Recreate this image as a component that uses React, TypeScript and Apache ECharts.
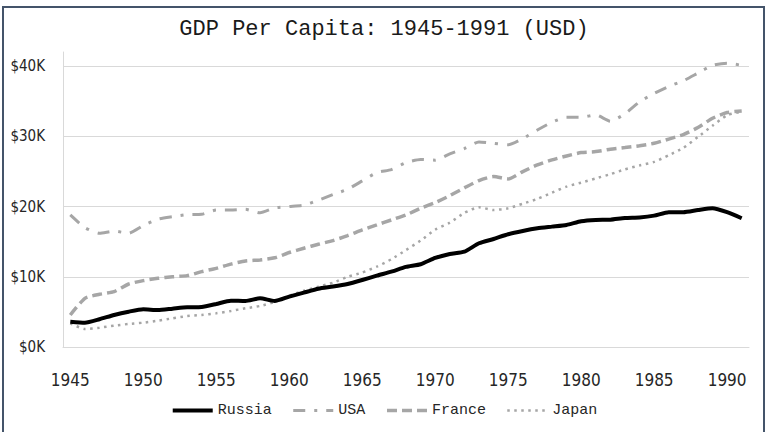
import React, { useEffect, useRef } from "react";
import * as echarts from "echarts";

const years = [
  "1945", "1946", "1947", "1948", "1949", "1950", "1951", "1952", "1953", "1954",
  "1955", "1956", "1957", "1958", "1959", "1960", "1961", "1962", "1963", "1964",
  "1965", "1966", "1967", "1968", "1969", "1970", "1971", "1972", "1973", "1974",
  "1975", "1976", "1977", "1978", "1979", "1980", "1981", "1982", "1983", "1984",
  "1985", "1986", "1987", "1988", "1989", "1990", "1991",
];

const russia = [
  3600, 3460, 3950, 4560, 5030, 5370, 5270, 5460, 5650, 5700,
  6130, 6600, 6550, 6950, 6550, 7170, 7740, 8300, 8600, 8970,
  9540, 10160, 10730, 11400, 11780, 12680, 13250, 13580, 14770, 15380,
  16050, 16520, 16900, 17140, 17380, 17900, 18090, 18130, 18380, 18450,
  18700, 19190, 19190, 19500, 19750, 19190, 18330,
];

const usa = [
  18800, 17000, 16200, 16500, 16200, 17300, 18200, 18560, 18850, 18900,
  19500, 19500, 19600, 19100, 19800, 20000, 20200, 20900, 21700, 22460,
  23650, 24830, 25260, 26250, 26700, 26600, 27500, 28250, 29200, 29000,
  28780, 29670, 30900, 32000, 32700, 32700, 33050, 32150, 33200, 34900,
  36100, 37100, 37900, 39000, 40100, 40400, 40100,
];

const france = [
  4560, 6930, 7500, 7880, 8970, 9450, 9780, 10000, 10160, 10730,
  11200, 11800, 12250, 12400, 12700, 13450, 14060, 14630, 15150, 15860,
  16670, 17380, 18090, 18800, 19750, 20560, 21550, 22650, 23700, 24260,
  23930, 24970, 25930, 26640, 27200, 27680, 27820, 28160, 28400, 28650,
  29000, 29600, 30250, 31240, 32570, 33380, 33600,
];

const japan = [
  3370, 2560, 2750, 3040, 3280, 3460, 3750, 4080, 4400, 4560,
  4800, 5130, 5510, 5840, 6400, 7300, 8000, 8600, 9160, 10000,
  10600, 11440, 12500, 13800, 15150, 16700, 17700, 19100, 19900, 19500,
  19750, 20400, 21080, 21980, 22840, 23400, 24000, 24600, 25300, 25850,
  26350, 27300, 28350, 29900, 31500, 33000, 33500,
];

const seriesNames = ["Russia", "USA", "France", "Japan"];
const titleText = "GDP Per Capita: 1945-1991 (USD)";

const GREY = "#a6a6a6";
const GRID = "#d9d9d9";
const AXIS_FONT = '"Liberation Sans Narrow", "DejaVu Sans Condensed", "Liberation Sans", sans-serif';
const TYPE_FONT = '"Liberation Mono", "DejaVu Sans Mono", monospace';

export default function App() {
  const ref = useRef<HTMLDivElement>(null);

  useEffect(() => {
    if (!ref.current) return;
    const chart = echarts.init(ref.current, null, { renderer: "svg" });
    chart.setOption({
      animation: false,
      backgroundColor: "#ffffff",
      title: {
        text: titleText,
        left: "center",
        top: 13,
        textStyle: {
          fontFamily: TYPE_FONT,
          fontSize: 22,
          fontWeight: "normal",
          color: "#1a1a1a",
        },
      },
      graphic: [
        {
          type: "rect",
          silent: true,
          shape: { x: 3, y: 7, width: 761, height: 440 },
          style: { fill: "none", stroke: "#44546a", lineWidth: 2 },
          z: 100,
        },
      ],
      legend: {
        bottom: 9,
        left: "center",
        itemWidth: 40,
        itemHeight: 14,
        itemGap: 20,
        data: seriesNames,
        itemStyle: { opacity: 0 },
        lineStyle: { width: "inherit" },
        textStyle: {
          fontFamily: TYPE_FONT,
          fontSize: 15,
          color: "#262626",
        },
      },
      grid: {
        left: 63,
        right: 19,
        top: 52,
        bottom: 85,
        containLabel: false,
      },
      xAxis: {
        type: "category",
        data: years,
        boundaryGap: true,
        axisLine: { show: true, lineStyle: { color: GRID, width: 1 } },
        axisTick: { show: false },
        axisLabel: {
          interval: 4,
          margin: 24,
          fontFamily: AXIS_FONT,
          fontSize: 17,
          color: "#262626",
        },
        splitLine: { show: false },
      },
      yAxis: {
        type: "value",
        min: 0,
        max: 42000,
        interval: 10000,
        axisLine: { show: true, lineStyle: { color: GRID, width: 1 } },
        axisTick: { show: false },
        axisLabel: {
          showMaxLabel: false,
          margin: 18,
          fontFamily: AXIS_FONT,
          fontSize: 15,
          color: "#262626",
          formatter: (v: number) => (v % 10000 === 0 ? "$" + v / 1000 + "K" : ""),
        },
        splitLine: {
          show: true,
          showMaxLine: false,
          lineStyle: {
            color: [GRID, GRID, GRID, GRID, GRID, "rgba(0,0,0,0)"],
            width: 1,
          },
        },
      },
      series: [
        {
          name: "USA",
          type: "line",
          data: usa,
          symbol: "none",
          smooth: 0.2,
          z: 2,
          lineStyle: { color: GREY, width: 3, type: [12, 9, 3, 9], cap: "butt" },
          itemStyle: { color: GREY },
        },
        {
          name: "France",
          type: "line",
          data: france,
          symbol: "none",
          smooth: 0.2,
          z: 2,
          lineStyle: { color: GREY, width: 3.5, type: [10, 5], cap: "butt" },
          itemStyle: { color: GREY },
        },
        {
          name: "Japan",
          type: "line",
          data: japan,
          symbol: "none",
          smooth: 0.2,
          z: 2,
          lineStyle: { color: GREY, width: 2.5, type: [2.5, 4.5], cap: "butt" },
          itemStyle: { color: GREY },
        },
        {
          name: "Russia",
          type: "line",
          data: russia,
          symbol: "none",
          smooth: 0.2,
          z: 3,
          lineStyle: { color: "#000000", width: 4 },
          itemStyle: { color: "#000000" },
        },
      ],
    });
    return () => chart.dispose();
  }, []);

  return (
    <div
      ref={ref}
      style={{ position: "fixed", left: 0, top: 0, width: 768, height: 432 }}
    />
  );
}
